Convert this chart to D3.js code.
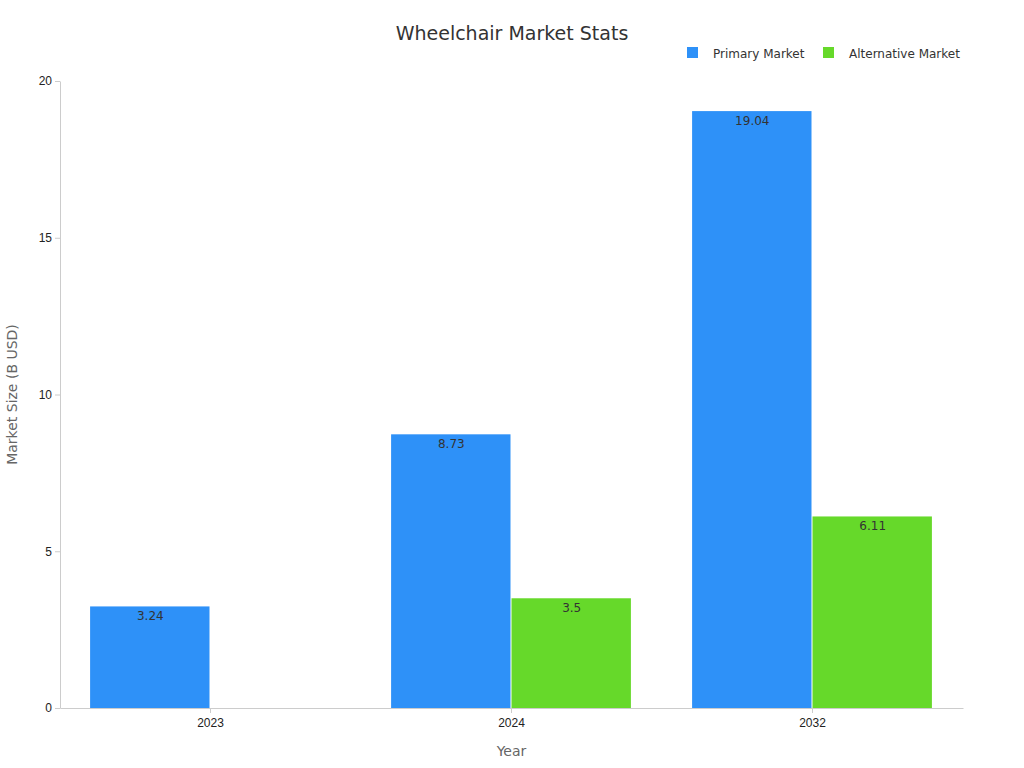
<!DOCTYPE html>
<html><head><meta charset="utf-8">
<script src="https://cdn.jsdelivr.net/npm/d3@7"></script>
<style>body{margin:0;background:#fff;font-family:"DejaVu Sans",sans-serif}</style>
</head><body><div id="chart-area"></div>
<script>
const years = ["2023", "2024", "2032"]
const primary = [3.24, 8.73, 19.04]
const alternative = [null, 3.5, 6.11]
const seriesNames = ["Primary Market", "Alternative Market"]
const colors = ["#2E91F8", "#66D92A"]
const yTicks = [0, 5, 10, 15, 20]

const MARGIN = {LEFT:60, RIGHT:61, TOP:81, BOTTOM:60}
const WIDTH = 1024 - MARGIN.LEFT - MARGIN.RIGHT
const HEIGHT = 768 - MARGIN.TOP - MARGIN.BOTTOM

const svg = d3.select("#chart-area").append("svg")
    .attr("width", 1024).attr("height", 768)
    .style("font-family", "DejaVu Sans, sans-serif")

svg.append("text").attr("x", 512).attr("y", 40).attr("text-anchor", "middle")
    .attr("font-size", "19px").attr("fill", "#333").text("Wheelchair Market Stats")

// legend
const legX = [687, 823]
seriesNames.forEach((n, i) => {
    svg.append("rect").attr("x", legX[i]).attr("y", 47).attr("width", 11).attr("height", 11).attr("fill", colors[i])
    svg.append("text").attr("x", legX[i] + 26).attr("y", 58).attr("font-size", "12px").attr("fill", "#333").text(n)
})

const g = svg.append("g").attr("transform", `translate(${MARGIN.LEFT}, ${MARGIN.TOP})`)

const x = d3.scaleBand().domain(years).range([0, WIDTH])
const x1 = d3.scaleBand().domain([0, 1]).range([x.step() * 0.1, x.step() * 0.9])
const y = d3.scaleLinear().domain([0, 20]).range([HEIGHT, 0])

const xAx = g.append("g").attr("transform", `translate(0, ${HEIGHT})`)
    .call(d3.axisBottom(x).tickSize(5).tickSizeOuter(0))
xAx.selectAll("text").attr("font-size", "12px").attr("fill", "#222").attr("dy", "0.9em")
xAx.selectAll("line, path").attr("stroke", "#ccc")

const yAx = g.append("g").call(d3.axisLeft(y).tickValues(yTicks).tickSize(5).tickSizeOuter(0))
yAx.selectAll("text").attr("font-size", "12px").attr("fill", "#222")
yAx.selectAll("line, path").attr("stroke", "#ccc")

g.append("text").attr("x", WIDTH / 2).attr("y", HEIGHT + 48).attr("text-anchor", "middle")
    .attr("font-size", "14px").attr("fill", "#666").text("Year")
g.append("text").attr("transform", "rotate(-90)").attr("x", -HEIGHT / 2).attr("y", -43)
    .attr("text-anchor", "middle").attr("font-size", "14px").attr("fill", "#666").text("Market Size (B USD)")

const rows = []
years.forEach((yr, i) => {
    if (primary[i] != null) rows.push({yr, s: 0, v: primary[i]})
    if (alternative[i] != null) rows.push({yr, s: 1, v: alternative[i]})
})

g.selectAll("rect.bar").data(rows).enter().append("rect")
    .attr("x", d => x(d.yr) + x1(d.s))
    .attr("y", d => y(d.v))
    .attr("width", x1.bandwidth() - 1)
    .attr("height", d => HEIGHT - y(d.v))
    .attr("fill", d => colors[d.s])

g.selectAll("text.lbl").data(rows).enter().append("text")
    .attr("x", d => x(d.yr) + x1(d.s) + x1.bandwidth() / 2)
    .attr("y", d => y(d.v) + 14)
    .attr("text-anchor", "middle").attr("font-size", "12px").attr("fill", "#333")
    .text(d => d.v)
</script></body></html>
